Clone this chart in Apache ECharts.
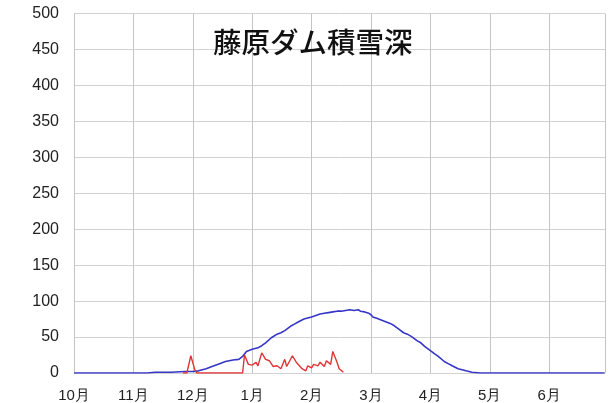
<!DOCTYPE html>
<html><head><meta charset="utf-8">
<script src="https://cdn.jsdelivr.net/npm/echarts@6/dist/echarts.min.js"></script>
<style>html,body{margin:0;padding:0;background:#fff}#c{width:608px;height:403px}</style>
</head><body><div id="c"></div>
<script>
const title = '藤原ダム積雪深';
const monthLabels = ['10月','11月','12月','1月','2月','3月','4月','5月','6月'];
const monthNums = [10,11,12,1,2,3,4,5,6];
const monthDays = [31,30,31,31,28,31,30,31,30];
const yTicks = [0,50,100,150,200,250,300,350,400,450,500];

// 積雪深 (cm)
const depthDates = ['10-01','11-08','11-12','11-20','11-27','12-01','12-04','12-08','12-11','12-15','12-18','12-22','12-25','12-27','12-29',
 '01-01','01-04','01-06','01-08','01-11','01-14','01-16','01-18','01-21','01-23','01-25','01-28','02-01','02-03','02-05','02-07','02-09','02-11','02-13','02-15','02-17','02-19','02-21','02-23','02-24','02-26','02-28',
 '03-01','03-02','03-04','03-06','03-08','03-11','03-13','03-15','03-18','03-20','03-22','03-25','03-27','03-29','04-01','04-03','04-05','04-08','04-10','04-12','04-15','04-19','04-22','04-26','05-15','06-01','06-29'];
const depthValues = [0,0,1,1,2,2,3,6,9,13,16,18,19,23,30,
 33,35,38,42,49,54,56,59,65,68,71,75,78,80,82,83,84,85,86,86,87,88,87,88,86,85,83,
 81,78,76,74,72,69,66,62,56,54,51,45,42,37,31,27,23,16,13,10,6,3,1,0,0,0,0];

// 新雪 (cm)
const newDates = ['11-26','11-28','11-30','12-02','12-03','12-27','12-28','12-30','01-01','01-03','01-04','01-06','01-08','01-10','01-12','01-14','01-16','01-18','01-19','01-22','01-24','01-27','01-29','01-30','02-01','02-02','02-04','02-05','02-07','02-08','02-10','02-11','02-13','02-14','02-16'];
const newValues = [0,0,24,5,0,0,25,12,11,15,10,28,19,17,9,10,6,19,9,24,15,6,3,10,7,12,10,15,9,17,12,30,15,6,1];

function pos(d){
  const [m,day] = d.split('-').map(Number);
  const i = monthNums.indexOf(m);
  return i + (day-1)/monthDays[i];
}
function pairs(dates, vals){ return dates.map((d,k)=>[pos(d), vals[k]]); }

const chart = echarts.init(document.getElementById('c'), null, {renderer:'canvas'});
const ff = 'Liberation Sans, Arial, sans-serif';
chart.setOption({
  animation:false,
  grid:{left:74, right:3, top:13.5, bottom:29.5, containLabel:false},
  xAxis:{type:'value', min:0, max:8.94, interval:1,
    axisLine:{show:false}, axisTick:{show:false},
    axisLabel:{margin:15, color:'#222', fontSize:15, fontFamily:ff,
      formatter:v=>Number.isInteger(v)&&v<monthLabels.length?monthLabels[v]:'', showMaxLabel:false},
    splitLine:{show:true, lineStyle:{color:'#c4c4c4', width:1}}},
  yAxis:{type:'value', min:yTicks[0], max:yTicks[yTicks.length-1], interval:50,
    axisLine:{show:false}, axisTick:{show:false},
    axisLabel:{margin:15, color:'#222', fontSize:16, fontFamily:ff},
    splitLine:{show:true, lineStyle:{color:'#d2d2d2', width:1}}},
  series:[
    {type:'line', data:pairs(depthDates, depthValues), showSymbol:false, smooth:false,
     lineStyle:{color:'#3535c8', width:1.6}, z:2},
    {type:'line', data:pairs(newDates, newValues), showSymbol:false,
     lineStyle:{color:'#e03535', width:1.4}, z:3}
  ],
  graphic:[{type:'text', left:213, top:28, z:10,
    style:{text:title, fontSize:28.5, fontFamily:'Noto Sans CJK JP', fill:'#111', fontWeight:500}}]
});
</script></body></html>
